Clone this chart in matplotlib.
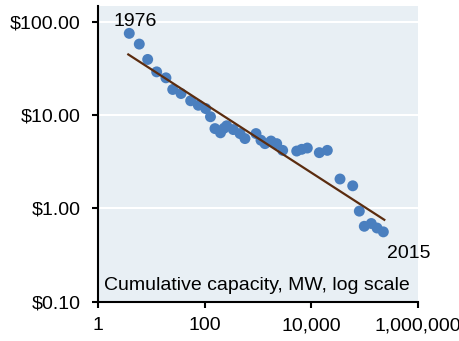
import matplotlib
matplotlib.use("Agg")
import matplotlib.pyplot as plt
from matplotlib.ticker import FixedLocator, FuncFormatter, NullLocator

plt.rcParams['font.family'] = ['Liberation Sans', 'DejaVu Sans']

# cumulative capacity (MW) and module price ($/W), 1976 -> 2015
capacity = [3.86, 5.95, 8.55, 12.6, 18.8, 25.2, 36.0, 54.7, 76.0, 104.6,
            128.6, 156, 198, 230, 259, 344, 460, 570, 918, 1138,
            1353, 1754, 2244, 2904, 5321, 6600, 8410, 14120, 19950, 34500,
            59700, 79400, 98400, 133000, 170600, 224000]
price = [75.6, 58.0, 39.7, 29.2, 25.2, 18.9, 17.1, 14.3, 12.8, 11.8,
         9.64, 7.19, 6.48, 7.25, 7.71, 7.02, 6.36, 5.62, 6.36, 5.39,
         4.96, 5.29, 4.96, 4.20, 4.13, 4.31, 4.45, 3.97, 4.20, 2.07,
         1.75, 0.936, 0.644, 0.69, 0.617, 0.561]

# trend line end points
trend_x = [3.70, 233500]
trend_y = [44.9, 0.756]

y_ticks = [0.1, 1, 10, 100]
x_ticks = [1, 100, 10000, 1000000]

fig = plt.figure(figsize=(4.6, 3.41), dpi=100)
ax = fig.add_axes([0.213, 0.1153, 0.6957, 0.8671])
ax.set_facecolor('#e8eff4')

ax.set_xscale('log')
ax.set_yscale('log')
ax.set_xlim(1, 1e6)
ax.set_ylim(0.1, 148.6)

for t in y_ticks[1:]:
    ax.axhline(t, color='white', lw=1.5, zorder=1)

ax.scatter(capacity, price, s=62, color='#4a7fbf', edgecolors='none', zorder=3)
ax.plot(trend_x, trend_y, color='#5b2c0f', lw=1.6, zorder=4)

ax.yaxis.set_major_locator(FixedLocator(y_ticks))
ax.yaxis.set_minor_locator(NullLocator())
ax.yaxis.set_major_formatter(FuncFormatter(lambda v, p: '${:,.2f}'.format(v)))
ax.xaxis.set_major_locator(FixedLocator(x_ticks))
ax.xaxis.set_minor_locator(NullLocator())
ax.xaxis.set_major_formatter(FuncFormatter(lambda v, p: '{:,.0f}'.format(v)))

for s in ['top', 'right']:
    ax.spines[s].set_visible(False)
for s in ['left', 'bottom']:
    ax.spines[s].set_linewidth(1.5)
ax.tick_params(axis='both', which='major', labelsize=14, length=4.3,
               width=1.5, direction='out')
ax.tick_params(axis='y', pad=8)
ax.tick_params(axis='x', pad=7)

ax.text(0.05, 0.932, '1976', transform=ax.transAxes, fontsize=14, va='baseline')
ax.text(0.902, 0.147, '2015', transform=ax.transAxes, fontsize=14,
        va='baseline', clip_on=False)
ax.text(0.019, 0.040, 'Cumulative capacity, MW, log scale',
        transform=ax.transAxes, fontsize=14, va='baseline')

plt.savefig('out.png', dpi=100)
